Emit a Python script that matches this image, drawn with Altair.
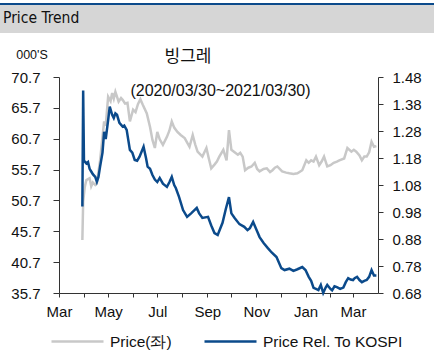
import altair as alt
import pandas as pd

# ---------------- data ----------------
price_dates = [
    "2020-03-30", "2020-03-31", "2020-04-02", "2020-04-04", "2020-04-08", "2020-04-10", "2020-04-12",
    "2020-04-15", "2020-04-17", "2020-04-21", "2020-04-24", "2020-04-26", "2020-04-28", "2020-05-01",
    "2020-05-04", "2020-05-06", "2020-05-08", "2020-05-10", "2020-05-14", "2020-05-17", "2020-05-19",
    "2020-05-22", "2020-05-25", "2020-05-28", "2020-06-01", "2020-06-04", "2020-06-07", "2020-06-10",
    "2020-06-13", "2020-06-18", "2020-06-22", "2020-06-25", "2020-06-28", "2020-07-01", "2020-07-04",
    "2020-07-08", "2020-07-13", "2020-07-16", "2020-07-19", "2020-07-22", "2020-07-26", "2020-07-30",
    "2020-08-04", "2020-08-10", "2020-08-14", "2020-08-17", "2020-08-20", "2020-08-26", "2020-08-31",
    "2020-09-03", "2020-09-06", "2020-09-10", "2020-09-13", "2020-09-16", "2020-09-21", "2020-09-25",
    "2020-09-28", "2020-10-01", "2020-10-05", "2020-10-09", "2020-10-12", "2020-10-15", "2020-10-18",
    "2020-10-22", "2020-10-26", "2020-10-30", "2020-11-02", "2020-11-05", "2020-11-10", "2020-11-14",
    "2020-11-18", "2020-11-21", "2020-11-24", "2020-11-27", "2020-12-03", "2020-12-08", "2020-12-12",
    "2020-12-17", "2020-12-22", "2020-12-28", "2021-01-02", "2021-01-05", "2021-01-08", "2021-01-11",
    "2021-01-14", "2021-01-18", "2021-01-21", "2021-01-24", "2021-01-28", "2021-02-01", "2021-02-05",
    "2021-02-09", "2021-02-12", "2021-02-18", "2021-02-22", "2021-02-27", "2021-03-02", "2021-03-05",
    "2021-03-09", "2021-03-12", "2021-03-15", "2021-03-18", "2021-03-21", "2021-03-24", "2021-03-27",
    "2021-03-30",
]
price_values = [
    44.3, 50.5, 52.9, 54.0, 54.3, 53.0, 53.6,
    53.2, 53.5, 57.2, 61.0, 63.5, 62.8, 67.5,
    66.8, 68.1, 67.2, 68.3, 66.7, 67.3, 67.0,
    66.4, 66.5, 63.5, 65.4, 65.0, 66.3, 67.1,
    66.2, 64.8, 62.6, 60.5, 59.2, 61.8, 60.6,
    59.7, 61.0, 62.0, 63.5, 62.5, 61.8, 61.3,
    60.8, 59.4, 61.3, 59.8, 58.6, 57.8, 59.2,
    57.5, 55.9, 56.5, 57.0, 57.8, 58.9, 57.2,
    62.1, 58.9, 58.5, 58.1, 58.4, 57.8, 55.6,
    56.0, 56.2, 56.8, 55.8, 55.4, 55.8, 55.9,
    55.3, 55.6, 56.0, 56.2, 55.4, 55.2, 55.1,
    55.0, 55.1, 55.6, 57.2, 56.8, 57.2, 57.0,
    57.8, 56.4, 57.0, 57.8, 56.2, 56.4, 56.8,
    57.0, 57.2, 57.5, 59.2, 58.6, 58.9, 58.6,
    58.0, 57.2, 57.8, 57.8, 58.5, 60.2, 59.4,
    59.5,
]

rel_dates = [
    "2020-03-30", "2020-03-31", "2020-04-01", "2020-04-04", "2020-04-06", "2020-04-08", "2020-04-10",
    "2020-04-12", "2020-04-15", "2020-04-17", "2020-04-19", "2020-04-21", "2020-04-24", "2020-04-26",
    "2020-04-28", "2020-05-01", "2020-05-03", "2020-05-06", "2020-05-08", "2020-05-10", "2020-05-12",
    "2020-05-15", "2020-05-19", "2020-05-21", "2020-05-24", "2020-05-28", "2020-05-31", "2020-06-03",
    "2020-06-06", "2020-06-09", "2020-06-14", "2020-06-17", "2020-06-19", "2020-06-22", "2020-06-25",
    "2020-06-28", "2020-07-01", "2020-07-04", "2020-07-08", "2020-07-13", "2020-07-16", "2020-07-19",
    "2020-07-22", "2020-07-24", "2020-07-28", "2020-08-02", "2020-08-07", "2020-08-12", "2020-08-19",
    "2020-08-22", "2020-08-26", "2020-09-02", "2020-09-06", "2020-09-10", "2020-09-14", "2020-09-20",
    "2020-09-24", "2020-09-28", "2020-10-01", "2020-10-05", "2020-10-11", "2020-10-17", "2020-10-21",
    "2020-10-24", "2020-10-28", "2020-11-01", "2020-11-05", "2020-11-10", "2020-11-15", "2020-11-20",
    "2020-11-26", "2020-12-02", "2020-12-06", "2020-12-12", "2020-12-17", "2020-12-22", "2020-12-28",
    "2021-01-01", "2021-01-05", "2021-01-08", "2021-01-11", "2021-01-14", "2021-01-17", "2021-01-20",
    "2021-01-23", "2021-01-26", "2021-01-28", "2021-02-01", "2021-02-03", "2021-02-06", "2021-02-09",
    "2021-02-13", "2021-02-17", "2021-02-20", "2021-02-23", "2021-02-26", "2021-03-01", "2021-03-03",
    "2021-03-06", "2021-03-09", "2021-03-12", "2021-03-15", "2021-03-18", "2021-03-21", "2021-03-24",
    "2021-03-27", "2021-03-30",
]
rel_values = [
    1.000, 1.430, 1.170, 1.160, 1.165, 1.140, 1.130,
    1.120, 1.110, 1.092, 1.110, 1.148, 1.200, 1.277,
    1.250, 1.320, 1.370, 1.340, 1.328, 1.345, 1.340,
    1.310, 1.296, 1.300, 1.284, 1.210, 1.200, 1.173,
    1.170, 1.185, 1.222, 1.180, 1.148, 1.140, 1.117,
    1.100, 1.091, 1.106, 1.085, 1.073, 1.090, 1.110,
    1.080, 1.069, 1.036, 0.987, 0.962, 0.975, 0.995,
    0.975, 0.958, 0.962, 0.930, 0.902, 0.895, 0.940,
    0.990, 1.035, 0.975, 0.958, 0.935, 0.925, 0.913,
    0.920, 0.943, 0.915, 0.887, 0.865, 0.847, 0.830,
    0.813, 0.772, 0.765, 0.770, 0.762, 0.768, 0.776,
    0.765, 0.740, 0.725, 0.699, 0.695, 0.691, 0.710,
    0.680, 0.700, 0.710, 0.695, 0.690, 0.705, 0.702,
    0.695, 0.700, 0.720, 0.735, 0.730, 0.728, 0.735,
    0.740, 0.728, 0.720, 0.725, 0.728, 0.740, 0.765,
    0.745, 0.745,
]

series_names = ["Price(좌)", "Price Rel. To KOSPI"]
series_colors = ["#c8c8c8", "#0b4a8b"]
left_ticks = [35.7, 40.7, 45.7, 50.7, 55.7, 60.7, 65.7, 70.7]
right_ticks = [0.68, 0.78, 0.88, 0.98, 1.08, 1.18, 1.28, 1.38, 1.48]
month_starts = pd.date_range("2020-03-01", "2021-03-01", freq="MS")

header_text = "Price Trend"
unit_text = "000'S"
title_text = "빙그레"
subtitle_text = "(2020/03/30~2021/03/30)"

# ---------------- chart ----------------
FONT = "Liberation Sans"
price_df = pd.DataFrame({"date": price_dates, "value": price_values, "series": series_names[0]})
rel_df = pd.DataFrame({"date": rel_dates, "value": rel_values, "series": series_names[1]})

tick_ms = [int(pd.Timestamp(d, tz="UTC").value // 10**6) for d in month_starts]

x_enc = alt.X(
    "date:T",
    scale=alt.Scale(type="utc",
                    domain=[alt.DateTime(year=2020, month=3, date=1, utc=True),
                            alt.DateTime(year=2021, month=4, date=1, utc=True)]),
    axis=alt.Axis(values=tick_ms, title=None, grid=False,
                  labelExpr="utcmonth(datum.value) % 2 == 0 ? utcFormat(datum.value, '%b') : ''",
                  tickSize=4, labelPadding=7, labelFontSize=15, labelFont=FONT,
                  labelColor="#111", domainColor="#333", tickColor="#333",
                  labelFlush=False, labelOverlap=False),
)

color_enc = alt.Color(
    "series:N",
    scale=alt.Scale(domain=series_names, range=series_colors),
    legend=alt.Legend(
        orient="none", legendX=-9, legendY=237, direction="horizontal", title=None,
        symbolType="stroke", symbolSize=2704, symbolStrokeWidth=2.5,
        labelFontSize=15.5, labelFont=FONT, labelColor="#111", labelOffset=5,
        columnPadding=27, padding=0,
    ),
)

price_line = alt.Chart(price_df).mark_line(strokeWidth=2.5, interpolate="linear").encode(
    x=x_enc,
    y=alt.Y("value:Q",
            scale=alt.Scale(domain=[35.7, 70.7], nice=False, zero=False),
            axis=alt.Axis(orient="left", values=left_ticks, format=".1f", title=None, grid=False,
                          tickSize=6, labelPadding=13, labelFontSize=15, labelFont=FONT,
                          labelColor="#111", domainColor="#333", tickColor="#333",
                          labelFlush=False, labelOverlap=False)),
    color=color_enc,
)

rel_line = alt.Chart(rel_df).mark_line(strokeWidth=2.5, interpolate="linear").encode(
    x=x_enc,
    y=alt.Y("value:Q",
            scale=alt.Scale(domain=[0.68, 1.48], nice=False, zero=False),
            axis=alt.Axis(orient="right", values=right_ticks, format=".2f", title=None, grid=False,
                          tickSize=5, labelPadding=9, labelFontSize=15, labelFont=FONT,
                          labelColor="#111", domainColor="#333", tickColor="#333",
                          labelFlush=False, labelOverlap=False)),
    color=color_enc,
)

one = pd.DataFrame({"k": [0]})

header_band = alt.Chart(one).mark_rect(color="#d6d6d6").encode(
    x=alt.value(-59), x2=alt.value(375), y=alt.value(-72), y2=alt.value(-44))
header_line = alt.Chart(one).mark_rect(color="#0b4a8b").encode(
    x=alt.value(-59), x2=alt.value(375), y=alt.value(-74), y2=alt.value(-72))
header_lbl = alt.Chart(one).mark_text(
    text=header_text,
    font="Liberation Sans Narrow, DejaVu Sans Condensed, Arial Narrow, Roboto Condensed, Noto Sans, sans-serif",
    fontSize=15.5, align="left",
    baseline="middle", color="#111").encode(x=alt.value(-56), y=alt.value(-59))
unit_lbl = alt.Chart(one).mark_text(
    text=unit_text, font=FONT, fontSize=12.5, align="center", baseline="middle",
    color="#111").encode(x=alt.value(-27), y=alt.value(-22))
title_lbl = alt.Chart(one).mark_text(
    text=title_text, font="Noto Sans CJK KR", fontSize=17, align="center", baseline="middle",
    color="#111").encode(x=alt.value(129), y=alt.value(-20))
subtitle_lbl = alt.Chart(one).mark_text(
    text=subtitle_text, font=FONT, fontSize=16, align="center", baseline="middle",
    color="#111").encode(x=alt.value(161.5), y=alt.value(14))

chart = alt.layer(
    header_band, header_line, header_lbl, unit_lbl, title_lbl, subtitle_lbl,
    price_line, rel_line,
).resolve_scale(y="independent").properties(
    width=319, height=216,
    autosize=alt.AutoSizeParams(type="none"),
    padding={"left": 59, "top": 77, "right": 56, "bottom": 63},
    background="white",
).configure_view(stroke=None)

chart.save("out.html", embed_options={"renderer": "svg", "actions": False})
